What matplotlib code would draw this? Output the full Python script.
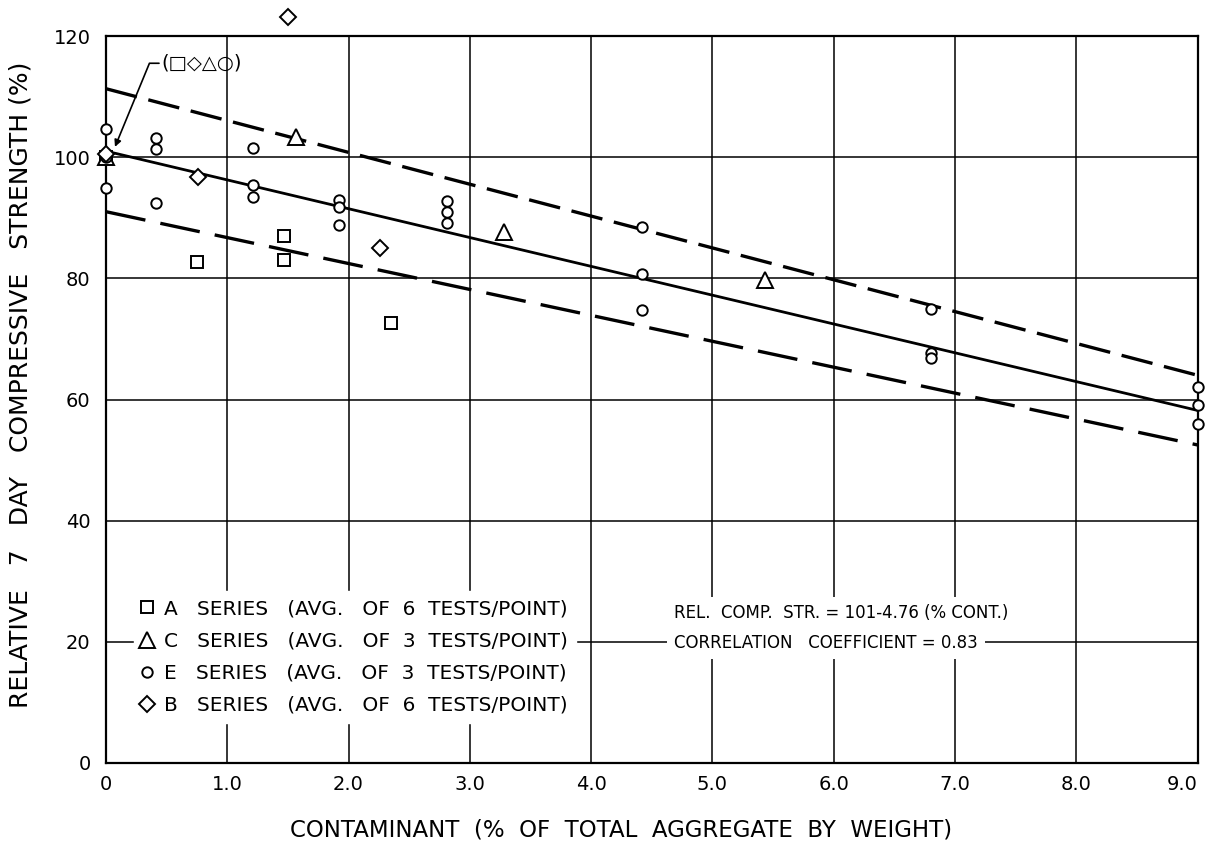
import numpy as np
import matplotlib
matplotlib.use("Agg")
import matplotlib.pyplot as plt

plt.rcParams['font.family'] = ['DejaVu Sans']
plt.rcParams['lines.scale_dashes'] = False

# 数据
a_x = [0.0, 0.75, 1.47, 1.47, 2.35]
a_y = [100.0, 82.7, 87.0, 83.0, 72.7]

c_x = [0.0, 1.57, 3.28, 5.43]
c_y = [100.0, 103.3, 87.7, 79.7]

e_x = [0.0, 0.0, 0.0, 0.41, 0.41, 0.41, 1.21, 1.21, 1.21, 1.92, 1.92, 1.92,
       2.81, 2.81, 2.81, 4.42, 4.42, 4.42, 6.80, 6.80, 6.80, 9.0, 9.0, 9.0]
e_y = [104.7, 100.0, 94.9, 103.1, 101.3, 92.4, 101.5, 95.4, 93.4, 92.9, 91.7, 88.8,
       92.7, 91.0, 89.1, 88.5, 80.7, 74.7, 74.9, 67.6, 66.8, 62.1, 59.1, 55.9]

b_x = [0.0, 0.76, 1.50, 2.26]
b_y = [100.5, 96.8, 123.2, 85.0]

line_x = [0.0, 9.0]
fit_y = [101.0, 58.2]
upper_y = [111.3, 64.0]
lower_y = [91.0, 52.5]

x_ticks = [0, 1, 2, 3, 4, 5, 6, 7, 8, 9]
x_labels = ['0', '1.0', '2.0', '3.0', '4.0', '5.0', '6.0', '7.0', '8.0', '9.0']
y_ticks = [0, 20, 40, 60, 80, 100, 120]

labels = ['A   SERIES   (AVG.   OF  6  TESTS/POINT)',
          'C   SERIES   (AVG.   OF  3  TESTS/POINT)',
          'E   SERIES   (AVG.   OF  3  TESTS/POINT)',
          'B   SERIES   (AVG.   OF  6  TESTS/POINT)']

W, H = 1209, 848
fig = plt.figure(figsize=(W / 100, H / 100), dpi=100)
ax = fig.add_axes([106 / W, 1 - 763 / H, (1197.5 - 106) / W, (763 - 36) / H])

ax.set_xlim(0, 9)
ax.set_ylim(0, 120)
ax.set_xticks(x_ticks)
ax.set_xticklabels(x_labels)
ax.set_yticks(y_ticks)
ax.tick_params(length=0, labelsize=14)
ax.tick_params(axis='x', pad=9)
ax.tick_params(axis='y', pad=11)
ax.get_xticklabels()[-1].set_ha('right')
ax.grid(True, color='black', lw=1.1)
ax.set_axisbelow(True)
for s in ax.spines.values():
    s.set_linewidth(1.6)

# 回归线和界限
ax.plot(line_x, fit_y, color='black', lw=2.0, zorder=3)
ax.plot(line_x, upper_y, color='black', lw=2.4, dashes=(23, 8.5), zorder=3)
ax.plot(line_x, lower_y, color='black', lw=2.4, dashes=(29, 11), zorder=3)

mk = dict(linestyle='none', color='black', markerfacecolor='white',
          markeredgewidth=1.4, clip_on=False, zorder=4)
h_a, = ax.plot(a_x, a_y, marker='s', markersize=8, **mk)
h_c, = ax.plot(c_x, c_y, marker='^', markersize=11.5, **mk)
h_e, = ax.plot(e_x, e_y, marker='o', markersize=7.5, **mk)
h_b, = ax.plot(b_x, b_y, marker='D', markersize=8.5, **mk)

leg = ax.legend([h_a, h_c, h_e, h_b], labels, loc='upper left',
                bbox_to_anchor=(0.0257, 0.236), fontsize=14.5, frameon=True,
                fancybox=False, framealpha=1, edgecolor='white',
                borderpad=0.4, labelspacing=0.65, handlelength=0.5,
                handletextpad=0.6, borderaxespad=0)
leg.set_zorder(6)

box = dict(facecolor='white', edgecolor='none', pad=5)
ax.text(4.685, 24.75, 'REL.  COMP.  STR. = 101-4.76 (% CONT.)',
        fontsize=12, va='center', ha='left', bbox=box, zorder=6)
ax.text(4.685, 19.8, 'CORRELATION   COEFFICIENT = 0.83',
        fontsize=12, va='center', ha='left', bbox=box, zorder=6)

ax.annotate('(□◇△○)', xy=(0.074, 101.7), xytext=(0.46, 115.5),
            fontsize=14, va='center', ha='left', zorder=6,
            arrowprops=dict(arrowstyle='-|>', color='black', lw=1.2,
                            connectionstyle='angle,angleA=0,angleB=67.6,rad=0',
                            shrinkA=0, shrinkB=0, relpos=(0, 0.5),
                            mutation_scale=10))

fig.text(621 / W, 1 - 830 / H, 'CONTAMINANT  (%  OF  TOTAL  AGGREGATE  BY  WEIGHT)',
         fontsize=16.5, ha='center', va='center')
fig.text(21 / W, 1 - 385 / H, 'RELATIVE   7   DAY   COMPRESSIVE   STRENGTH (%)',
         fontsize=18, ha='center', va='center', rotation=90)

fig.savefig('out.png', dpi=100)
